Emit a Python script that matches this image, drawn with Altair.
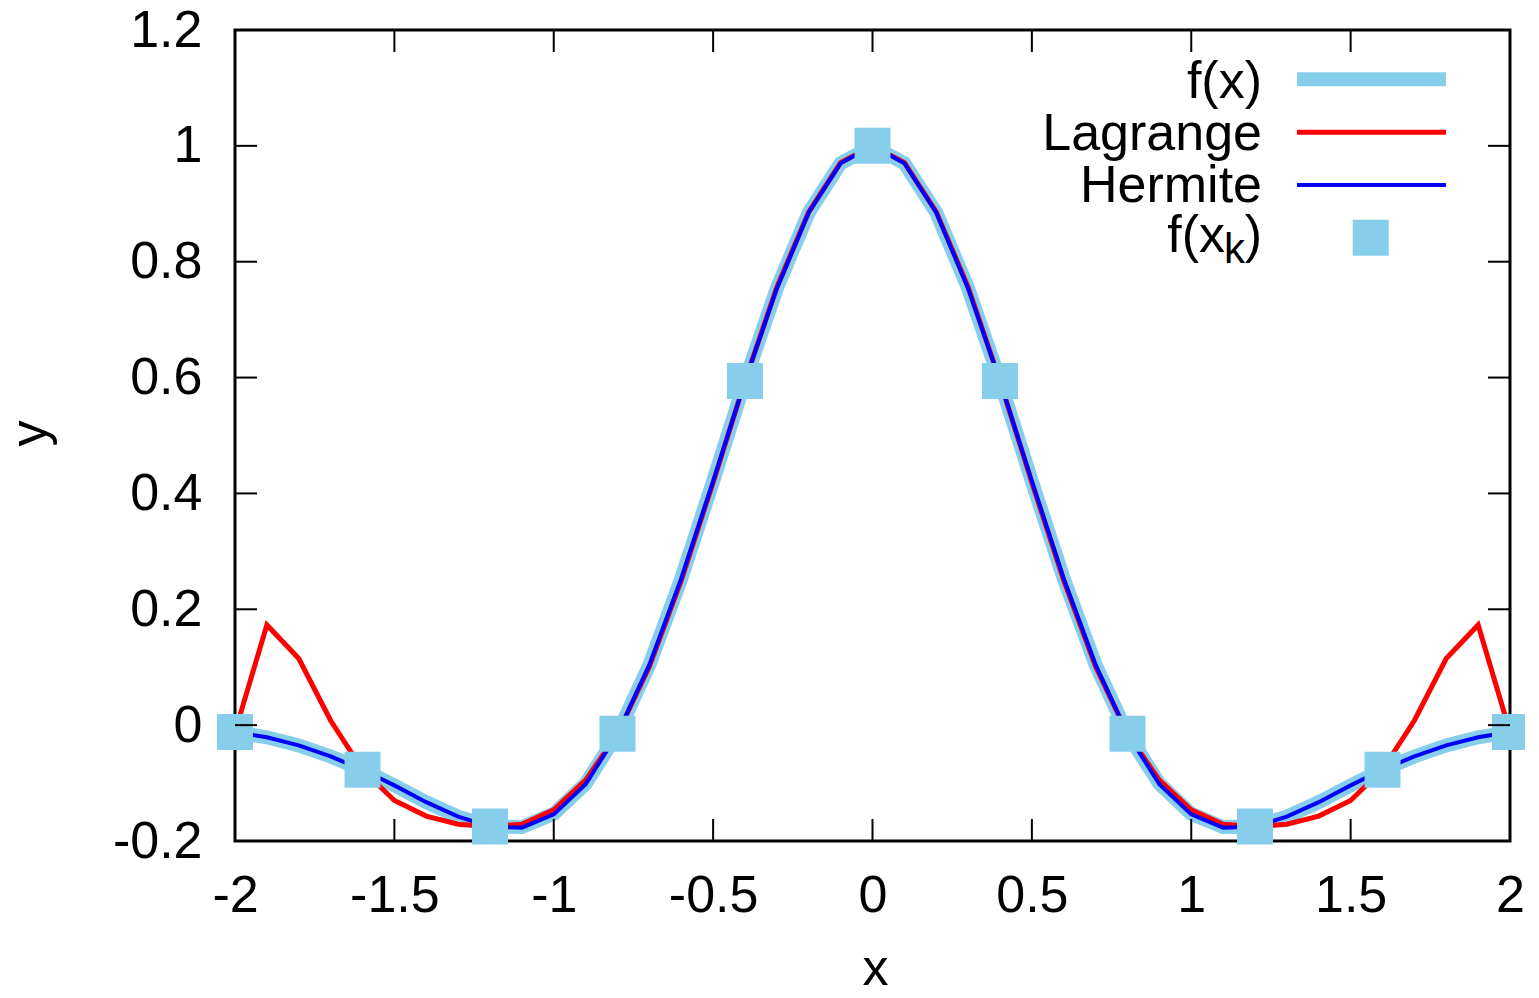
import altair as alt
import pandas as pd

FONT = "Liberation Sans"
FS = 52

# sample abscissae
x_vals = [-2.0, -1.9, -1.8, -1.7, -1.6, -1.5, -1.4, -1.3, -1.2, -1.1, -1.0,
          -0.9, -0.8, -0.7, -0.6, -0.5, -0.4, -0.3, -0.2, -0.1, 0.0,
          0.1, 0.2, 0.3, 0.4, 0.5, 0.6, 0.7, 0.8, 0.9, 1.0,
          1.1, 1.2, 1.3, 1.4, 1.5, 1.6, 1.7, 1.8, 1.9, 2.0]

f_vals = [-0.012, -0.021, -0.035, -0.054, -0.077, -0.104, -0.133, -0.158, -0.175, -0.176, -0.153,
          -0.101, -0.015, 0.104, 0.253, 0.421, 0.594, 0.754, 0.885, 0.970, 1.000,
          0.970, 0.885, 0.754, 0.594, 0.421, 0.253, 0.104, -0.015, -0.101, -0.153,
          -0.176, -0.175, -0.158, -0.133, -0.104, -0.077, -0.054, -0.035, -0.021, -0.012]

lagrange_vals = [-0.012, 0.173, 0.115, 0.008, -0.077, -0.130, -0.157, -0.171, -0.175, -0.171, -0.146,
                 -0.095, -0.015, 0.101, 0.250, 0.419, 0.594, 0.756, 0.886, 0.971, 1.000,
                 0.971, 0.886, 0.756, 0.594, 0.419, 0.250, 0.101, -0.015, -0.095, -0.146,
                 -0.171, -0.175, -0.171, -0.157, -0.130, -0.077, 0.008, 0.115, 0.173, -0.012]

hermite_vals = [-0.012, -0.021, -0.035, -0.054, -0.077, -0.104, -0.133, -0.158, -0.175, -0.177, -0.154,
                -0.102, -0.015, 0.104, 0.253, 0.421, 0.594, 0.754, 0.885, 0.970, 1.000,
                0.970, 0.885, 0.754, 0.594, 0.421, 0.253, 0.104, -0.015, -0.102, -0.154,
                -0.177, -0.175, -0.158, -0.133, -0.104, -0.077, -0.054, -0.035, -0.021, -0.012]

node_x = [-2.0, -1.6, -1.2, -0.8, -0.4, 0.0, 0.4, 0.8, 1.2, 1.6, 2.0]
node_y = [-0.012, -0.077, -0.175, -0.015, 0.594, 1.000, 0.594, -0.015, -0.175, -0.077, -0.012]

x_ticks = [-2, -1.5, -1, -0.5, 0, 0.5, 1, 1.5, 2]
y_ticks = [-0.2, 0, 0.2, 0.4, 0.6, 0.8, 1, 1.2]

legend_labels = ["f(x)", "Lagrange", "Hermite"]

W, H = 1275, 811
SKY = "#87CEEB"

curves = pd.DataFrame({"x": x_vals, "f": f_vals, "lag": lagrange_vals, "her": hermite_vals})
nodes = pd.DataFrame({"x": node_x, "y": node_y})
xt = pd.DataFrame({"v": x_ticks})
yt = pd.DataFrame({"v": y_ticks})

xs = alt.Scale(domain=[-2, 2], nice=False, zero=False)
ys = alt.Scale(domain=[-0.2, 1.2], nice=False, zero=False)

x_axis = alt.Axis(values=x_ticks, labelExpr="toString(datum.value)", ticks=False, tickSize=0,
                  domain=False, grid=False, labelPadding=29, labelFlush=False, labelOverlap=False,
                  labelFont=FONT, labelFontSize=FS, labelColor="black",
                  title="x", titleFont=FONT, titleFontSize=FS, titleFontWeight="normal",
                  titleColor="black", titleX=640, titleY=143, titleBaseline="alphabetic")
y_axis = alt.Axis(values=y_ticks, labelExpr="toString(datum.value)", ticks=False, tickSize=0,
                  domain=False, grid=False, labelPadding=33, labelFlush=False, labelOverlap=False,
                  labelFont=FONT, labelFontSize=FS, labelColor="black",
                  title="y", titleFont=FONT, titleFontSize=FS, titleFontWeight="normal",
                  titleColor="black", titleX=-190, titleY=403, titleBaseline="alphabetic")


def X(field):
    return alt.X(field, scale=xs, axis=x_axis, title="x")


def Y(field):
    return alt.Y(field, scale=ys, axis=y_axis, title="y")


base = alt.Chart(curves)
f_line = base.mark_line(color=SKY, strokeWidth=14).encode(x=X("x:Q"), y=Y("f:Q"))
lag_line = base.mark_line(color="#FF0000", strokeWidth=5).encode(x=X("x:Q"), y=Y("lag:Q"))
her_line = base.mark_line(color="#0000FF", strokeWidth=4).encode(x=X("x:Q"), y=Y("her:Q"))
pts = alt.Chart(nodes).mark_square(size=1296, color=SKY, opacity=1, filled=True).encode(
    x=X("x:Q"), y=Y("y:Q"))

TL = 22
tick_bottom = alt.Chart(xt).mark_rule(color="black", strokeWidth=2).encode(
    x=X("v:Q"), y=alt.value(H - TL), y2=alt.value(H))
tick_top = alt.Chart(xt).mark_rule(color="black", strokeWidth=2).encode(
    x=X("v:Q"), y=alt.value(0), y2=alt.value(TL))
tick_left = alt.Chart(yt).mark_rule(color="black", strokeWidth=2).encode(
    y=Y("v:Q"), x=alt.value(0), x2=alt.value(TL))
tick_right = alt.Chart(yt).mark_rule(color="black", strokeWidth=2).encode(
    y=Y("v:Q"), x=alt.value(W - TL), x2=alt.value(W))


def one(label):
    return alt.Chart(pd.DataFrame({"t": [label]}))


def legend_text(label, x, y, size=FS):
    return one(label).mark_text(align="right", baseline="alphabetic", fontSize=size,
                                font=FONT, color="black").encode(
        text="t:N", x=alt.value(x), y=alt.value(y))


def legend_line(label, y, color, width):
    return one(label).mark_rule(color=color, strokeWidth=width).encode(
        x=alt.value(1062), x2=alt.value(1211), y=alt.value(y))


leg = [
    legend_text(legend_labels[0], 1027, 68),
    legend_line(legend_labels[0], 49.3, SKY, 14),
    legend_text(legend_labels[1], 1027, 120),
    legend_line(legend_labels[1], 102.3, "#FF0000", 5),
    legend_text(legend_labels[2], 1027, 171.7),
    legend_line(legend_labels[2], 155, "#0000FF", 4),
    legend_text("f(x", 990, 221.7),
    legend_text("k", 1010, 233, 42),
    legend_text(")", 1027, 221.7),
    one("f(x_k)").mark_square(size=1296, color=SKY, opacity=1, filled=True).encode(
        x=alt.value(1135.7), y=alt.value(207.7)),
]

chart = alt.layer(
    f_line, lag_line, her_line, pts,
    tick_bottom, tick_top, tick_left, tick_right,
    *leg
).properties(
    width=W, height=H,
    autosize=alt.AutoSizeParams(type="none"),
    padding={"left": 227, "top": 22, "right": 15, "bottom": 152},
    background="white",
).configure_view(
    stroke="black", strokeWidth=3
)

chart.save("out.html", embed_options={"renderer": "svg", "actions": False})
